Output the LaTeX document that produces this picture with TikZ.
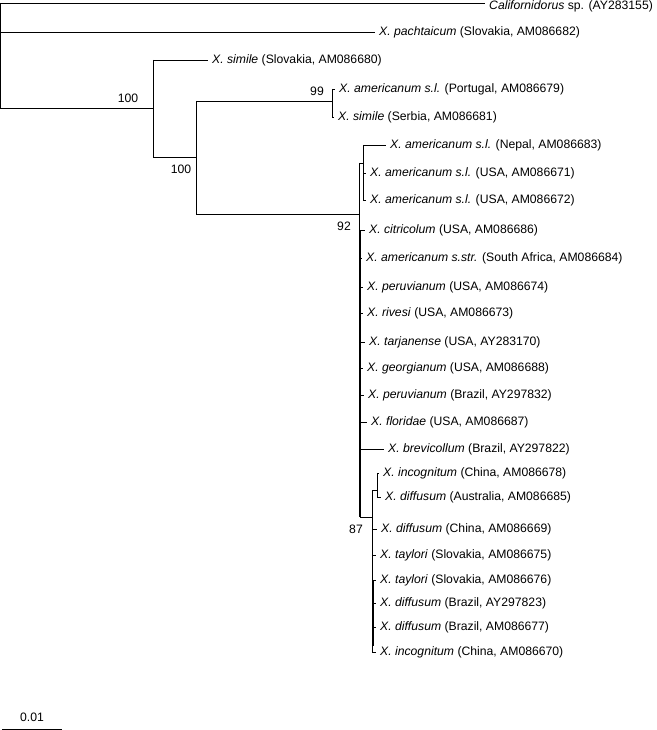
\documentclass[tikz,border=0pt]{standalone}
\usepackage{fontspec}
\setmainfont{Liberation Sans}
\usetikzlibrary{calc}

\tikzset{
  br/.style={line width=0.9pt},
  leaf/.style={anchor=west, inner xsep=4pt, inner ysep=0pt, font=\fontsize{12.2}{14}\selectfont},
  bs/.style={inner sep=0pt, font=\fontsize{12.2}{14}\selectfont},
}

\begin{document}
\begin{tikzpicture}[x=1pt,y=-1pt]
  \useasboundingbox (0,0) rectangle (656,730);
  % internal nodes
  \coordinate (r) at (0.5,3);
  \coordinate (a) at (153,108);
  \coordinate (b) at (196,157);
  \coordinate (c) at (332,101);
  \coordinate (d) at (359,214);
  \coordinate (e) at (363,163);
  \coordinate (f) at (360.2,240);
  \coordinate (g) at (372,517);
  \coordinate (h) at (377,490);
  \coordinate (k) at (373.5,595);
  % taxa
  \node[leaf, yshift=-3.5pt] (cal) at (485,3) {\textit{Californidorus} sp. (AY283155)};
  \node[leaf] (pac) at (375,32) {\textit{X. pachtaicum} (Slovakia, AM086682)};
  \node[leaf] (sim1) at (208,60) {\textit{X. simile} (Slovakia, AM086680)};
  \node[leaf] (por) at (335,89) {\textit{X. americanum s.l.} (Portugal, AM086679)};
  \node[leaf] (ser) at (334,117) {\textit{X. simile} (Serbia, AM086681)};
  \node[leaf] (nep) at (386,145) {\textit{X. americanum s.l.} (Nepal, AM086683)};
  \node[leaf] (us1) at (366,173) {\textit{X. americanum s.l.} (USA, AM086671)};
  \node[leaf] (us2) at (366,200) {\textit{X. americanum s.l.} (USA, AM086672)};
  \node[leaf] (cit) at (365,230) {\textit{X. citricolum} (USA, AM086686)};
  \node[leaf] (sst) at (362,258) {\textit{X. americanum s.str.} (South Africa, AM086684)};
  \node[leaf] (per1) at (363,287) {\textit{X. peruvianum} (USA, AM086674)};
  \node[leaf] (riv) at (363,313) {\textit{X. rivesi} (USA, AM086673)};
  \node[leaf] (tar) at (365,342) {\textit{X. tarjanense} (USA, AY283170)};
  \node[leaf] (geo) at (363,368) {\textit{X. georgianum} (USA, AM086688)};
  \node[leaf] (per2) at (364,395) {\textit{X. peruvianum} (Brazil, AY297832)};
  \node[leaf] (flo) at (367,422) {\textit{X. floridae} (USA, AM086687)};
  \node[leaf] (bre) at (384,449) {\textit{X. brevicollum} (Brazil, AY297822)};
  \node[leaf] (inc1) at (379,473) {\textit{X. incognitum} (China, AM086678)};
  \node[leaf] (dif1) at (381,497) {\textit{X. diffusum} (Australia, AM086685)};
  \node[leaf] (dif2) at (377,529) {\textit{X. diffusum} (China, AM086669)};
  \node[leaf] (tay1) at (376,555) {\textit{X. taylori} (Slovakia, AM086675)};
  \node[leaf] (tay2) at (376,580) {\textit{X. taylori} (Slovakia, AM086676)};
  \node[leaf] (dif3) at (376,603) {\textit{X. diffusum} (Brazil, AY297823)};
  \node[leaf] (dif4) at (376,627) {\textit{X. diffusum} (Brazil, AM086677)};
  \node[leaf] (inc2) at (376,652) {\textit{X. incognitum} (China, AM086670)};
  % branches
  \draw[br] (r) -- (r |- a) -- (a);
  \draw[br] (r) -- (cal.west |- r);
  \draw[br] (r |- pac.west) -- (pac.west);
  \draw[br] (a |- sim1.west) -- (a |- b);
  \draw[br] (a |- sim1.west) -- (sim1.west);
  \draw[br] (a |- b) -- (b);
  \draw[br] (b |- c) -- (b |- d);
  \draw[br] (b |- c) -- (c);
  \draw[br] (b |- d) -- (d);
  \draw[br] (c |- por.west) -- (c |- ser.west);
  \draw[br] (c |- por.west) -- (por.west);
  \draw[br] (c |- ser.west) -- (ser.west);
  \draw[br] (d |- e) -- (d |- g);
  \draw[br] (d |- e) -- (e);
  \draw[br] (e |- nep.west) -- (e |- us2.west);
  \foreach \t in {nep,us1,us2}
    \draw[br] (e |- \t.west) -- (\t.west);
  \draw[br] (d |- f) -- (f);
  \draw[br] (f |- cit.west) -- (f |- g);
  \foreach \t in {cit,sst,per1,riv,tar,geo,per2,flo,bre}
    \draw[br] (f |- \t.west) -- (\t.west);
  \draw[br] (f |- g) -- (g);
  \draw[br] (g |- h) -- (g |- inc2.west);
  \draw[br] (g |- h) -- (h);
  \draw[br] (h |- inc1.west) -- (h |- dif1.west);
  \draw[br] (h |- inc1.west) -- (inc1.west);
  \draw[br] (h |- dif1.west) -- (dif1.west);
  \draw[br] (g |- k) -- (k);
  \draw[br] (k |- tay2.west) -- ($(k |- inc2.west)+(0,-6)$);
  \foreach \t in {dif2,tay1,tay2,dif3,dif4,inc2}
    \draw[br] (g |- \t.west) -- (\t.west);
  % bootstrap values
  \node[bs] (v1) at (128,98) {100};
  \node[bs] (v2) at (181,169) {100};
  \node[bs] (v3) at (317,91) {99};
  \node[bs] (v4) at (344,226) {92};
  \node[bs] (v5) at (356,529) {87};
  % scale bar
  \coordinate (s0) at (2,729);
  \coordinate (s1) at (62,729);
  \draw[br] (s0) -- (s1);
  \node[bs] (sl) at (32,717) {0.01};
\end{tikzpicture}
\end{document}
